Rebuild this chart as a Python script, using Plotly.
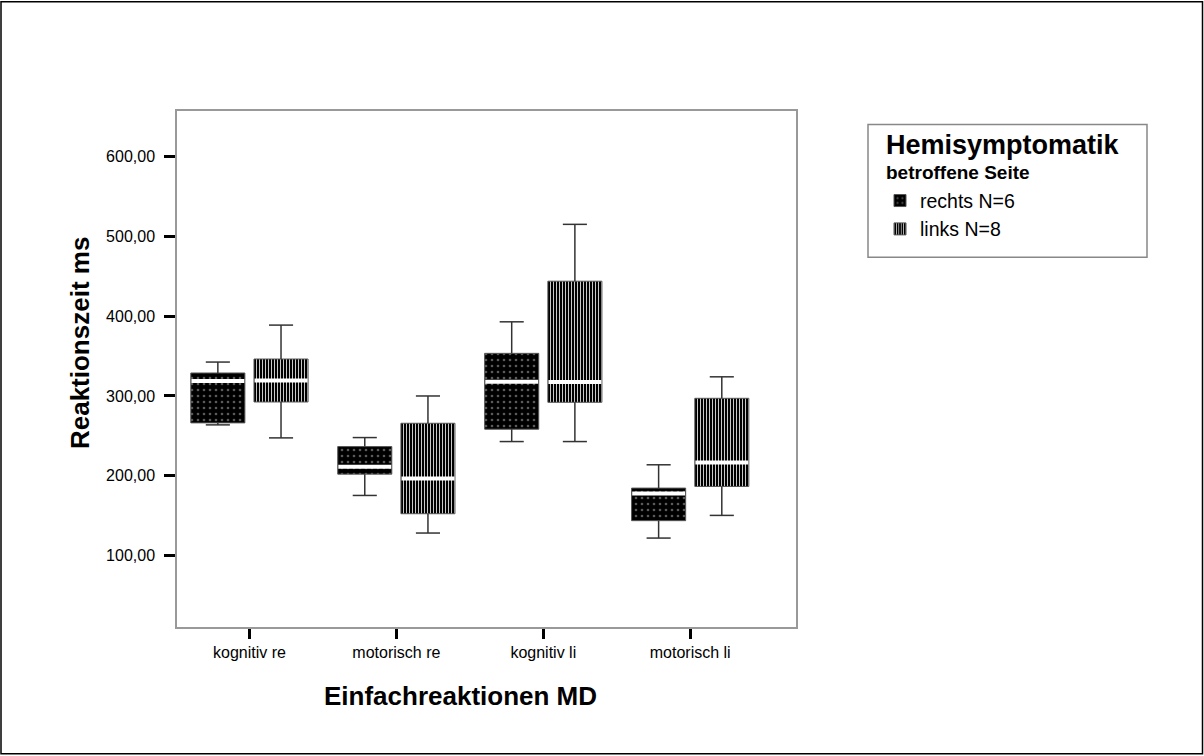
import plotly.graph_objects as go

categories = ["kognitiv re", "motorisch re", "kognitiv li", "motorisch li"]
group_names = ["rechts N=6", "links N=8"]

rechts_min = [263.8, 175.4, 242.9, 122.0]
rechts_q1 = [266.3, 202.1, 258.4, 143.8]
rechts_med = [318.8, 211.3, 317.9, 177.9]
rechts_q3 = [328.8, 236.6, 353.4, 184.6]
rechts_max = [342.5, 247.9, 392.9, 213.8]

links_min = [247.5, 128.3, 242.9, 150.4]
links_q1 = [292.5, 152.5, 292.1, 186.7]
links_med = [319.4, 196.6, 317.5, 216.7]
links_q3 = [346.3, 265.8, 443.8, 297.1]
links_max = [388.8, 300.0, 515.0, 324.0]

y_tick_vals = [100, 200, 300, 400, 500, 600]
y_tick_text = ["100,00", "200,00", "300,00", "400,00", "500,00", "600,00"]

FONT = "Liberation Sans, Arial, sans-serif"
W, H = 1204, 756
L, R, T, B = 177, 796, 110.5, 627.5   # plot area in px
BOX_W = 0.368
SHIFT = 0.215
CAP_W = 0.164

def px_x(px):
    return (px - L) / (R - L)

def px_y(py):
    return (B - py) / (B - T)

series = [
    dict(name=group_names[0], mn=rechts_min, q1=rechts_q1, med=rechts_med, q3=rechts_q3, mx=rechts_max,
         shift=-SHIFT, shape=".", fg="#5a5a5a", size=6, sol=0.15),
    dict(name=group_names[1], mn=links_min, q1=links_q1, med=links_med, q3=links_q3, mx=links_max,
         shift=SHIFT, shape="|", fg="#c8c8c8", size=3, sol=0.34),
]

fig = go.Figure()
xs = list(range(len(categories)))

for s in series:
    fig.add_trace(go.Bar(
        x=xs,
        y=[b - a for a, b in zip(s["q1"], s["q3"])],
        base=s["q1"],
        width=BOX_W,
        offset=s["shift"] - BOX_W / 2,
        name=s["name"],
        marker=dict(color="black",
                    line=dict(color="#555555", width=1),
                    pattern=dict(shape=s["shape"], fgcolor=s["fg"], bgcolor="black",
                                 size=s["size"], solidity=s["sol"], fillmode="replace")),
        hoverinfo="skip",
        legendgroup=s["name"],
    ))

for s in series:
    wx, wy = [], []
    for i in xs:
        c = i + s["shift"]
        wx += [c, c, None, c, c, None,
               c - CAP_W / 2, c + CAP_W / 2, None, c - CAP_W / 2, c + CAP_W / 2, None]
        wy += [s["q3"][i], s["mx"][i], None, s["q1"][i], s["mn"][i], None,
               s["mx"][i], s["mx"][i], None, s["mn"][i], s["mn"][i], None]
    fig.add_trace(go.Scatter(x=wx, y=wy, mode="lines", line=dict(color="#333333", width=1.5),
                             showlegend=False, hoverinfo="skip"))
    mx_, my_ = [], []
    for i in xs:
        c = i + s["shift"]
        mx_ += [c - BOX_W / 2 + 0.004, c + BOX_W / 2 - 0.004, None]
        my_ += [s["med"][i], s["med"][i], None]
    fig.add_trace(go.Scatter(x=mx_, y=my_, mode="lines", line=dict(color="white", width=4),
                             showlegend=False, hoverinfo="skip"))

fig.update_layout(
    width=W, height=H,
    margin=dict(l=L, r=W - R, t=T, b=H - B, pad=0),
    paper_bgcolor="white", plot_bgcolor="white",
    font=dict(family=FONT, color="black", size=16),
    barmode="overlay",
    showlegend=True,
    legend=dict(x=px_x(880), y=px_y(181), xanchor="left", yanchor="top",
                font=dict(size=19.5, family=FONT), bgcolor="rgba(0,0,0,0)",
                tracegroupgap=0, itemwidth=30),
    xaxis=dict(range=[-0.493, 3.72], tickmode="array", tickvals=xs, ticktext=categories,
               showgrid=False, zeroline=False, showline=True, mirror=True,
               linecolor="#999999", linewidth=1.5,
               ticks="outside", ticklen=10, tickwidth=3, tickcolor="black",
               tickfont=dict(size=16), ticklabelstandoff=0),
    yaxis=dict(range=[10.6, 657], tickmode="array", tickvals=y_tick_vals, ticktext=y_tick_text,
               showgrid=False, zeroline=False, showline=True, mirror=True,
               linecolor="#999999", linewidth=1.5,
               ticks="outside", ticklen=11, tickwidth=3, tickcolor="black",
               tickfont=dict(size=16), ticklabelstandoff=6),
)

# axis titles
fig.add_annotation(text="<b>Reaktionszeit ms</b>", xref="paper", yref="paper",
                   x=px_x(80), y=px_y(343), textangle=-90, showarrow=False,
                   font=dict(size=26, family=FONT), xanchor="center", yanchor="middle")
fig.add_annotation(text="<b>Einfachreaktionen MD</b>", xref="paper", yref="paper",
                   x=px_x(460), y=px_y(697), showarrow=False,
                   font=dict(size=26, family=FONT), xanchor="center", yanchor="middle")

# legend title
fig.add_annotation(text="<b>Hemisymptomatik</b>", xref="paper", yref="paper",
                   x=px_x(884), y=px_y(145), showarrow=False,
                   font=dict(size=27, family=FONT), xanchor="left", yanchor="middle")
fig.add_annotation(text="<b>betroffene Seite</b>", xref="paper", yref="paper",
                   x=px_x(884), y=px_y(172), showarrow=False,
                   font=dict(size=19, family=FONT), xanchor="left", yanchor="middle")

# legend frame
fig.add_shape(type="rect", xref="paper", yref="paper",
              x0=px_x(868), x1=px_x(1147), y0=px_y(257), y1=px_y(124),
              line=dict(color="#888888", width=1.5), fillcolor="rgba(0,0,0,0)")
# outer frame
fig.add_shape(type="rect", xref="paper", yref="paper",
              x0=px_x(1), x1=px_x(1202.5), y0=px_y(754.5), y1=px_y(1),
              line=dict(color="black", width=1.5), fillcolor="rgba(0,0,0,0)")

fig.write_html("out.html")
